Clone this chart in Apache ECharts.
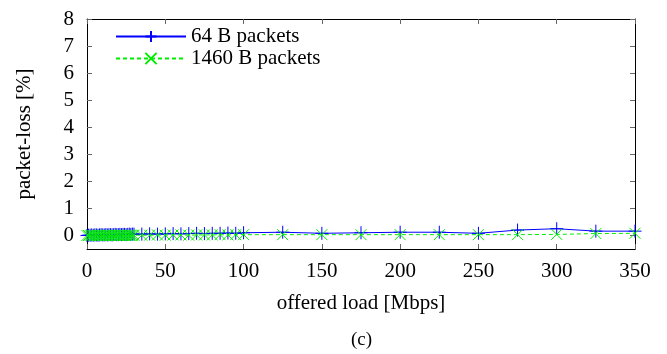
<!DOCTYPE html>
<html>
<head>
<meta charset="utf-8">
<script src="https://cdn.jsdelivr.net/npm/echarts@6/dist/echarts.min.js"></script>
<style>
  html, body { margin: 0; padding: 0; background: #fff; }
  #chart { width: 667px; height: 354px; }
</style>
</head>
<body>
<div id="chart"></div>
<script>
// offered load [Mbps]
const offeredLoad = [
  0, 1, 2, 3, 4, 5, 6, 7, 8, 9, 10, 11, 12, 13, 14, 15, 16, 17, 18, 19, 20,
  21, 22, 23, 24, 25, 26, 27, 28, 29, 30,
  35, 40, 45, 50, 55, 60, 65, 70, 75, 80, 85, 90, 95, 100,
  125, 150, 175, 200, 225, 250, 275, 300, 325, 350
]
// packet-loss [%]
const loss64 = [
  0, 0.01, 0.01, 0.02, 0.01, 0.02, 0.02, 0.01, 0.02, 0.03, 0.02, 0.02, 0.03, 0.02, 0.03, 0.03, 0.02, 0.03, 0.04, 0.03, 0.03,
  0.04, 0.03, 0.04, 0.04, 0.03, 0.04, 0.05, 0.04, 0.05, 0.05,
  0.05, 0.06, 0.05, 0.06, 0.07, 0.06, 0.07, 0.08, 0.07, 0.08, 0.08, 0.09, 0.08, 0.1,
  0.12, 0.08, 0.1, 0.12, 0.12, 0.08, 0.2, 0.25, 0.16, 0.16
]
const loss1460 = [
  0, 0, 0, 0.01, 0, 0, 0.01, 0, 0, 0.01, 0, 0, 0, 0.01, 0, 0, 0.01, 0, 0, 0.01, 0,
  0, 0.01, 0, 0, 0.01, 0, 0.01, 0, 0.01, 0.01,
  0.01, 0.01, 0.02, 0.01, 0.02, 0.02, 0.01, 0.02, 0.02, 0.02, 0.03, 0.02, 0.03, 0.03,
  0.03, 0.03, 0.03, 0.03, 0.03, 0.03, 0.03, 0.04, 0.07, 0.08
]
const yTicks = [0, 1, 2, 3, 4, 5, 6, 7, 8]

const font = 'Liberation Serif'
const plusPath = 'path://M0,6L12,6M6,0L6,12'
const crossPath = 'path://M0,0L12,12M12,0L0,12'

const chart = echarts.init(document.getElementById('chart'))

const tickStyle = { show: true, inside: true, length: 5, lineStyle: { color: '#666' } }
const axisLine = { show: true, onZero: false, lineStyle: { color: '#000', width: 1 } }

const option = {
  animation: false,
  grid: { left: 87, right: 32, top: 19, bottom: 105 },
  legend: {
    orient: 'vertical',
    left: 110,
    top: 21,
    itemWidth: 70,
    itemHeight: 14,
    itemGap: 1,
    textStyle: { fontFamily: font, fontSize: 21, color: '#000' },
    data: ['64 B packets', '1460 B packets']
  },
  xAxis: [{
    type: 'value', min: 0, max: 350, interval: 50,
    name: 'offered load [Mbps]', nameLocation: 'middle', nameGap: 44,
    nameTextStyle: { fontFamily: font, fontSize: 21, color: '#000' },
    axisLine, axisTick: tickStyle,
    axisLabel: { fontFamily: font, fontSize: 21, color: '#000', margin: 12 },
    splitLine: { show: false }
  }, {
    type: 'value', min: 0, max: 350, interval: 50, position: 'top',
    axisLine, axisTick: tickStyle, axisLabel: { show: false }, splitLine: { show: false }
  }],
  yAxis: [{
    type: 'value', min: -0.5, max: 8,
    name: 'packet-loss [%]', nameLocation: 'middle', nameGap: 52,
    nameTextStyle: { fontFamily: font, fontSize: 21, color: '#000' },
    axisLine,
    axisTick: Object.assign({ customValues: yTicks }, tickStyle),
    axisLabel: { customValues: yTicks, fontFamily: font, fontSize: 21, color: '#000', margin: 13 },
    splitLine: { show: false }
  }, {
    type: 'value', min: -0.5, max: 8, position: 'right',
    axisLine,
    axisTick: Object.assign({ customValues: yTicks }, tickStyle),
    axisLabel: { show: false }, splitLine: { show: false }
  }],
  series: [{
    name: '64 B packets',
    type: 'line',
    data: offeredLoad.map((x, i) => [x, loss64[i]]),
    symbol: plusPath,
    symbolSize: 13,
    showAllSymbol: true,
    itemStyle: { color: '#0000ff', borderColor: '#0000ff', borderWidth: 1 },
    lineStyle: { color: '#0000ff', width: 1 },
    z: 2
  }, {
    name: '1460 B packets',
    type: 'line',
    data: offeredLoad.map((x, i) => [x, loss1460[i]]),
    symbol: crossPath,
    symbolSize: 11,
    showAllSymbol: true,
    itemStyle: { color: '#00ee00', borderColor: '#00ee00', borderWidth: 1 },
    lineStyle: { color: '#00ee00', width: 1, type: [4, 3] },
    z: 3
  }],
  graphic: [{
    type: 'text', left: 351, top: 331,
    style: { text: '(c)', font: '19px "Liberation Serif"', fill: '#000' }
  }]
}

chart.setOption(option)
</script>
</body>
</html>
